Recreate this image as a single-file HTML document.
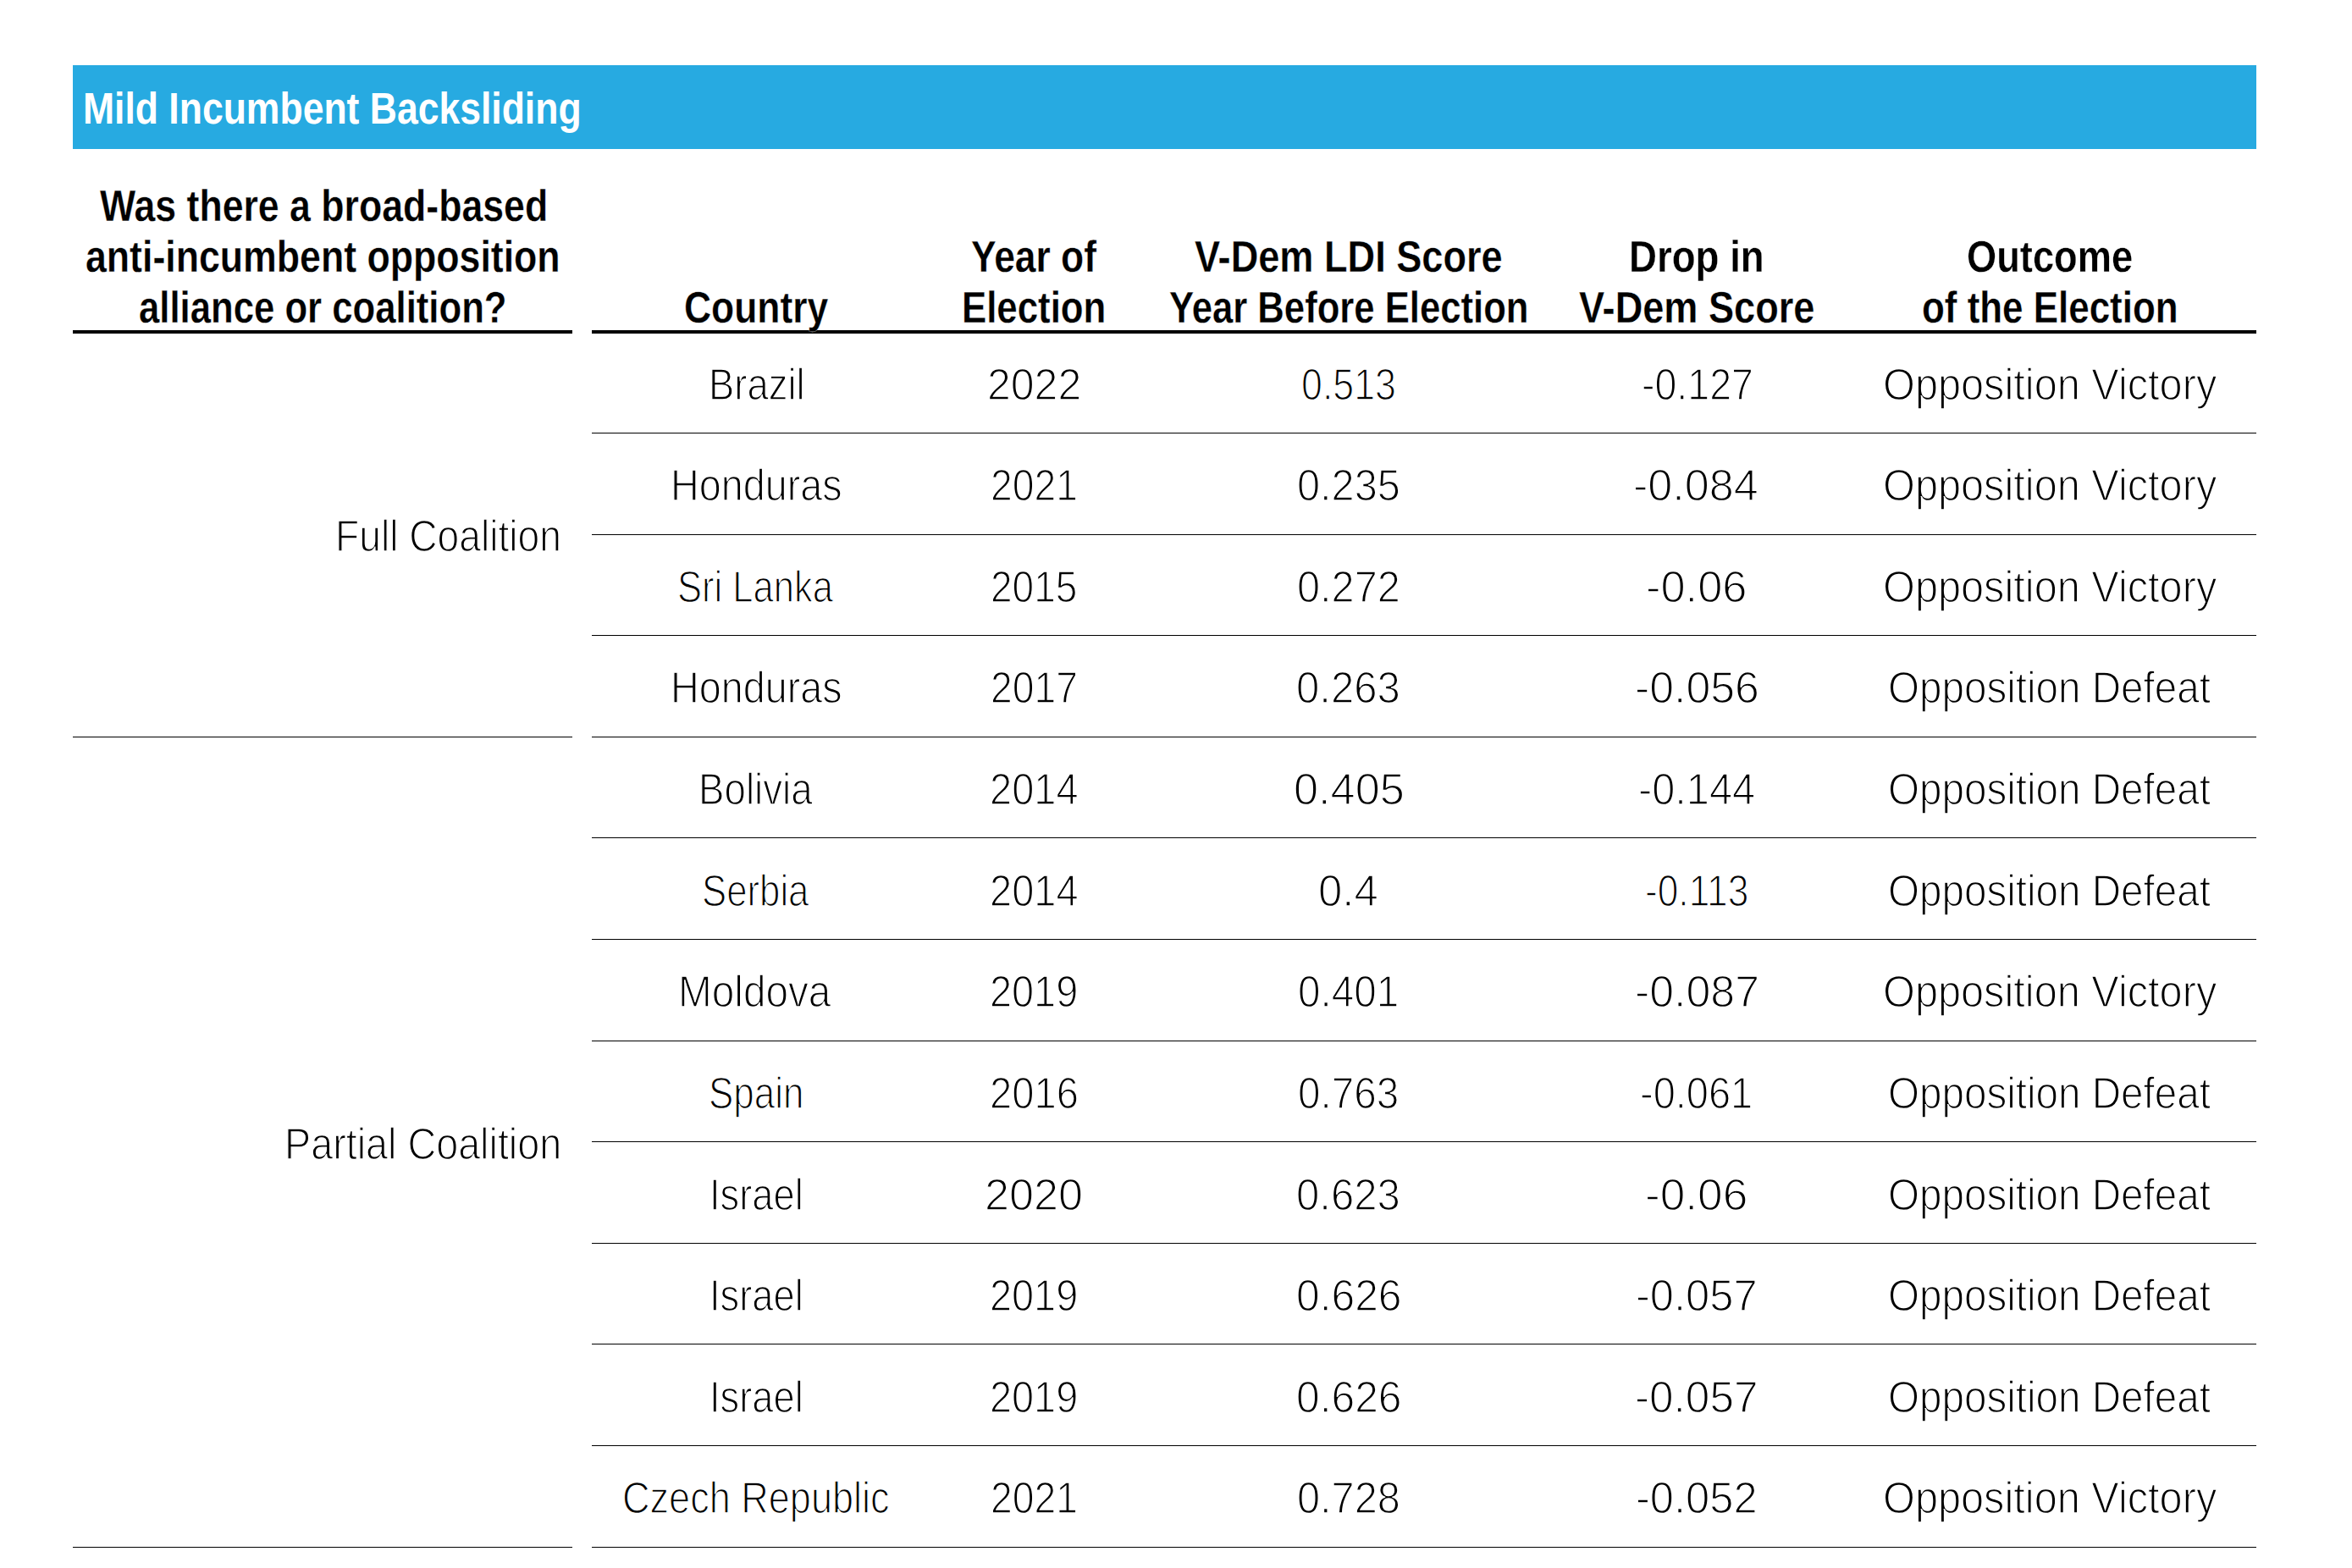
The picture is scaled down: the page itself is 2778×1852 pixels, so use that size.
<!DOCTYPE html>
<html><head><meta charset="utf-8"><style>
html,body{margin:0;padding:0;background:#fff;width:2778px;height:1852px;overflow:hidden;position:relative}
div{position:absolute;white-space:nowrap;line-height:1;font-family:"Liberation Sans",sans-serif;transform-origin:0 0}
i{position:absolute;display:block}
</style></head><body>
<i style="left:86px;top:77px;width:2579px;height:99px;background:#27aae1"></i><i style="left:86px;top:390px;width:590px;height:4px;background:#000"></i><i style="left:699px;top:390px;width:1966px;height:4px;background:#000"></i><i style="left:699px;top:511px;width:1966px;height:1px;background:#000"></i><i style="left:699px;top:631px;width:1966px;height:1px;background:#000"></i><i style="left:699px;top:750px;width:1966px;height:1px;background:#000"></i><i style="left:699px;top:870px;width:1966px;height:1px;background:#000"></i><i style="left:699px;top:989px;width:1966px;height:1px;background:#000"></i><i style="left:699px;top:1109px;width:1966px;height:1px;background:#000"></i><i style="left:699px;top:1229px;width:1966px;height:1px;background:#000"></i><i style="left:699px;top:1348px;width:1966px;height:1px;background:#000"></i><i style="left:699px;top:1468px;width:1966px;height:1px;background:#000"></i><i style="left:699px;top:1587px;width:1966px;height:1px;background:#000"></i><i style="left:699px;top:1707px;width:1966px;height:1px;background:#000"></i><i style="left:699px;top:1827px;width:1966px;height:1px;background:#000"></i><i style="left:86px;top:870px;width:590px;height:1px;background:#000"></i><i style="left:86px;top:1827px;width:590px;height:1px;background:#000"></i>
<div style="left:98.38px;top:102.83px;transform:scaleX(0.8728);font-weight:bold;font-size:51px;color:#fff;letter-spacing:0px;">Mild Incumbent Backsliding</div>
<div style="left:118.00px;top:217.58px;transform:scaleX(0.8752);font-weight:bold;font-size:51px;color:#000;letter-spacing:0px;-webkit-text-stroke:0.3px #fff;">Was there a broad-based</div>
<div style="left:101.25px;top:277.58px;transform:scaleX(0.8756);font-weight:bold;font-size:51px;color:#000;letter-spacing:0px;-webkit-text-stroke:0.3px #fff;">anti-incumbent opposition</div>
<div style="left:164.29px;top:337.58px;transform:scaleX(0.8566);font-weight:bold;font-size:51px;color:#000;letter-spacing:0px;-webkit-text-stroke:0.3px #fff;">alliance or coalition?</div>
<div style="left:808.26px;top:338.08px;transform:scaleX(0.8705);font-weight:bold;font-size:51px;color:#000;letter-spacing:0px;-webkit-text-stroke:0.3px #fff;">Country</div>
<div style="left:1147.13px;top:277.58px;transform:scaleX(0.8698);font-weight:bold;font-size:51px;color:#000;letter-spacing:0px;-webkit-text-stroke:0.3px #fff;">Year of</div>
<div style="left:1135.57px;top:338.08px;transform:scaleX(0.8586);font-weight:bold;font-size:51px;color:#000;letter-spacing:0px;-webkit-text-stroke:0.3px #fff;">Election</div>
<div style="left:1411.12px;top:277.58px;transform:scaleX(0.8848);font-weight:bold;font-size:51px;color:#000;letter-spacing:0px;-webkit-text-stroke:0.3px #fff;">V-Dem LDI Score</div>
<div style="left:1381.14px;top:337.58px;transform:scaleX(0.8557);font-weight:bold;font-size:51px;color:#000;letter-spacing:0px;-webkit-text-stroke:0.3px #fff;">Year Before Election</div>
<div style="left:1924.42px;top:277.58px;transform:scaleX(0.8947);font-weight:bold;font-size:51px;color:#000;letter-spacing:0px;-webkit-text-stroke:0.3px #fff;">Drop in</div>
<div style="left:1865.12px;top:337.58px;transform:scaleX(0.8846);font-weight:bold;font-size:51px;color:#000;letter-spacing:0px;-webkit-text-stroke:0.3px #fff;">V-Dem Score</div>
<div style="left:2322.73px;top:277.58px;transform:scaleX(0.8871);font-weight:bold;font-size:51px;color:#000;letter-spacing:0px;-webkit-text-stroke:0.3px #fff;">Outcome</div>
<div style="left:2270.28px;top:337.58px;transform:scaleX(0.8613);font-weight:bold;font-size:51px;color:#000;letter-spacing:0px;-webkit-text-stroke:0.3px #fff;">of the Election</div>
<div style="left:836.55px;top:429.03px;transform:scaleX(0.8908);font-weight:normal;font-size:51px;color:#000;letter-spacing:0px;-webkit-text-stroke:1.4px #fff;">Brazil</div>
<div style="left:1165.56px;top:429.03px;transform:scaleX(0.9804);font-weight:normal;font-size:51px;color:#000;letter-spacing:0px;-webkit-text-stroke:1.4px #fff;">2022</div>
<div style="left:1536.97px;top:429.03px;transform:scaleX(0.8770);font-weight:normal;font-size:51px;color:#000;letter-spacing:0px;-webkit-text-stroke:1.4px #fff;">0.513</div>
<div style="left:1938.66px;top:429.03px;transform:scaleX(0.9123);font-weight:normal;font-size:51px;color:#000;letter-spacing:0px;-webkit-text-stroke:1.4px #fff;">-0.127</div>
<div style="left:2223.64px;top:429.03px;transform:scaleX(0.9548);font-weight:normal;font-size:51px;color:#000;letter-spacing:0px;-webkit-text-stroke:1.4px #fff;">Opposition Victory</div>
<div style="left:792.42px;top:548.03px;transform:scaleX(0.9159);font-weight:normal;font-size:51px;color:#000;letter-spacing:0px;-webkit-text-stroke:1.4px #fff;">Honduras</div>
<div style="left:1169.68px;top:548.03px;transform:scaleX(0.9075);font-weight:normal;font-size:51px;color:#000;letter-spacing:0px;-webkit-text-stroke:1.4px #fff;">2021</div>
<div style="left:1531.64px;top:548.03px;transform:scaleX(0.9549);font-weight:normal;font-size:51px;color:#000;letter-spacing:0px;-webkit-text-stroke:1.4px #fff;">0.235</div>
<div style="left:1929.33px;top:548.03px;transform:scaleX(1.0223);font-weight:normal;font-size:51px;color:#000;letter-spacing:0px;-webkit-text-stroke:1.4px #fff;">-0.084</div>
<div style="left:2223.64px;top:548.03px;transform:scaleX(0.9548);font-weight:normal;font-size:51px;color:#000;letter-spacing:0px;-webkit-text-stroke:1.4px #fff;">Opposition Victory</div>
<div style="left:800.44px;top:668.03px;transform:scaleX(0.8538);font-weight:normal;font-size:51px;color:#000;letter-spacing:0px;-webkit-text-stroke:1.4px #fff;">Sri Lanka</div>
<div style="left:1169.69px;top:668.03px;transform:scaleX(0.9019);font-weight:normal;font-size:51px;color:#000;letter-spacing:0px;-webkit-text-stroke:1.4px #fff;">2015</div>
<div style="left:1531.64px;top:668.03px;transform:scaleX(0.9545);font-weight:normal;font-size:51px;color:#000;letter-spacing:0px;-webkit-text-stroke:1.4px #fff;">0.272</div>
<div style="left:1944.32px;top:668.03px;transform:scaleX(1.0273);font-weight:normal;font-size:51px;color:#000;letter-spacing:0px;-webkit-text-stroke:1.4px #fff;">-0.06</div>
<div style="left:2223.64px;top:668.03px;transform:scaleX(0.9548);font-weight:normal;font-size:51px;color:#000;letter-spacing:0px;-webkit-text-stroke:1.4px #fff;">Opposition Victory</div>
<div style="left:792.42px;top:787.03px;transform:scaleX(0.9159);font-weight:normal;font-size:51px;color:#000;letter-spacing:0px;-webkit-text-stroke:1.4px #fff;">Honduras</div>
<div style="left:1169.68px;top:787.03px;transform:scaleX(0.9075);font-weight:normal;font-size:51px;color:#000;letter-spacing:0px;-webkit-text-stroke:1.4px #fff;">2017</div>
<div style="left:1530.71px;top:787.03px;transform:scaleX(0.9623);font-weight:normal;font-size:51px;color:#000;letter-spacing:0px;-webkit-text-stroke:1.4px #fff;">0.263</div>
<div style="left:1930.55px;top:787.03px;transform:scaleX(1.0158);font-weight:normal;font-size:51px;color:#000;letter-spacing:0px;-webkit-text-stroke:1.4px #fff;">-0.056</div>
<div style="left:2230.20px;top:787.03px;transform:scaleX(0.9332);font-weight:normal;font-size:51px;color:#000;letter-spacing:0px;-webkit-text-stroke:1.4px #fff;">Opposition Defeat</div>
<div style="left:824.52px;top:907.03px;transform:scaleX(0.8958);font-weight:normal;font-size:51px;color:#000;letter-spacing:0px;-webkit-text-stroke:1.4px #fff;">Bolivia</div>
<div style="left:1168.74px;top:907.03px;transform:scaleX(0.9213);font-weight:normal;font-size:51px;color:#000;letter-spacing:0px;-webkit-text-stroke:1.4px #fff;">2014</div>
<div style="left:1527.53px;top:907.03px;transform:scaleX(1.0246);font-weight:normal;font-size:51px;color:#000;letter-spacing:0px;-webkit-text-stroke:1.4px #fff;">0.405</div>
<div style="left:1934.63px;top:907.03px;transform:scaleX(0.9554);font-weight:normal;font-size:51px;color:#000;letter-spacing:0px;-webkit-text-stroke:1.4px #fff;">-0.144</div>
<div style="left:2230.20px;top:907.03px;transform:scaleX(0.9332);font-weight:normal;font-size:51px;color:#000;letter-spacing:0px;-webkit-text-stroke:1.4px #fff;">Opposition Defeat</div>
<div style="left:829.43px;top:1027.03px;transform:scaleX(0.8576);font-weight:normal;font-size:51px;color:#000;letter-spacing:0px;-webkit-text-stroke:1.4px #fff;">Serbia</div>
<div style="left:1168.74px;top:1027.03px;transform:scaleX(0.9213);font-weight:normal;font-size:51px;color:#000;letter-spacing:0px;-webkit-text-stroke:1.4px #fff;">2014</div>
<div style="left:1556.70px;top:1027.03px;transform:scaleX(0.9985);font-weight:normal;font-size:51px;color:#000;letter-spacing:0px;-webkit-text-stroke:1.4px #fff;">0.4</div>
<div style="left:1943.00px;top:1027.03px;transform:scaleX(0.8681);font-weight:normal;font-size:51px;color:#000;letter-spacing:0px;-webkit-text-stroke:1.4px #fff;">-0.113</div>
<div style="left:2230.20px;top:1027.03px;transform:scaleX(0.9332);font-weight:normal;font-size:51px;color:#000;letter-spacing:0px;-webkit-text-stroke:1.4px #fff;">Opposition Defeat</div>
<div style="left:801.32px;top:1146.03px;transform:scaleX(0.9358);font-weight:normal;font-size:51px;color:#000;letter-spacing:0px;-webkit-text-stroke:1.4px #fff;">Moldova</div>
<div style="left:1168.74px;top:1146.03px;transform:scaleX(0.9187);font-weight:normal;font-size:51px;color:#000;letter-spacing:0px;-webkit-text-stroke:1.4px #fff;">2019</div>
<div style="left:1532.90px;top:1146.03px;transform:scaleX(0.9339);font-weight:normal;font-size:51px;color:#000;letter-spacing:0px;-webkit-text-stroke:1.4px #fff;">0.401</div>
<div style="left:1930.55px;top:1146.03px;transform:scaleX(1.0167);font-weight:normal;font-size:51px;color:#000;letter-spacing:0px;-webkit-text-stroke:1.4px #fff;">-0.087</div>
<div style="left:2223.64px;top:1146.03px;transform:scaleX(0.9548);font-weight:normal;font-size:51px;color:#000;letter-spacing:0px;-webkit-text-stroke:1.4px #fff;">Opposition Victory</div>
<div style="left:837.41px;top:1266.03px;transform:scaleX(0.8618);font-weight:normal;font-size:51px;color:#000;letter-spacing:0px;-webkit-text-stroke:1.4px #fff;">Spain</div>
<div style="left:1168.73px;top:1266.03px;transform:scaleX(0.9243);font-weight:normal;font-size:51px;color:#000;letter-spacing:0px;-webkit-text-stroke:1.4px #fff;">2016</div>
<div style="left:1532.90px;top:1266.03px;transform:scaleX(0.9336);font-weight:normal;font-size:51px;color:#000;letter-spacing:0px;-webkit-text-stroke:1.4px #fff;">0.763</div>
<div style="left:1936.84px;top:1266.03px;transform:scaleX(0.9210);font-weight:normal;font-size:51px;color:#000;letter-spacing:0px;-webkit-text-stroke:1.4px #fff;">-0.061</div>
<div style="left:2230.20px;top:1266.03px;transform:scaleX(0.9332);font-weight:normal;font-size:51px;color:#000;letter-spacing:0px;-webkit-text-stroke:1.4px #fff;">Opposition Defeat</div>
<div style="left:837.56px;top:1386.03px;transform:scaleX(0.8879);font-weight:normal;font-size:51px;color:#000;letter-spacing:0px;-webkit-text-stroke:1.4px #fff;">Israel</div>
<div style="left:1162.93px;top:1386.03px;transform:scaleX(1.0222);font-weight:normal;font-size:51px;color:#000;letter-spacing:0px;-webkit-text-stroke:1.4px #fff;">2020</div>
<div style="left:1530.71px;top:1386.03px;transform:scaleX(0.9623);font-weight:normal;font-size:51px;color:#000;letter-spacing:0px;-webkit-text-stroke:1.4px #fff;">0.623</div>
<div style="left:1943.37px;top:1386.03px;transform:scaleX(1.0436);font-weight:normal;font-size:51px;color:#000;letter-spacing:0px;-webkit-text-stroke:1.4px #fff;">-0.06</div>
<div style="left:2230.20px;top:1386.03px;transform:scaleX(0.9332);font-weight:normal;font-size:51px;color:#000;letter-spacing:0px;-webkit-text-stroke:1.4px #fff;">Opposition Defeat</div>
<div style="left:837.56px;top:1505.03px;transform:scaleX(0.8879);font-weight:normal;font-size:51px;color:#000;letter-spacing:0px;-webkit-text-stroke:1.4px #fff;">Israel</div>
<div style="left:1168.74px;top:1505.03px;transform:scaleX(0.9187);font-weight:normal;font-size:51px;color:#000;letter-spacing:0px;-webkit-text-stroke:1.4px #fff;">2019</div>
<div style="left:1530.67px;top:1505.03px;transform:scaleX(0.9754);font-weight:normal;font-size:51px;color:#000;letter-spacing:0px;-webkit-text-stroke:1.4px #fff;">0.626</div>
<div style="left:1932.42px;top:1505.03px;transform:scaleX(0.9928);font-weight:normal;font-size:51px;color:#000;letter-spacing:0px;-webkit-text-stroke:1.4px #fff;">-0.057</div>
<div style="left:2230.20px;top:1505.03px;transform:scaleX(0.9332);font-weight:normal;font-size:51px;color:#000;letter-spacing:0px;-webkit-text-stroke:1.4px #fff;">Opposition Defeat</div>
<div style="left:837.56px;top:1625.03px;transform:scaleX(0.8879);font-weight:normal;font-size:51px;color:#000;letter-spacing:0px;-webkit-text-stroke:1.4px #fff;">Israel</div>
<div style="left:1168.74px;top:1625.03px;transform:scaleX(0.9187);font-weight:normal;font-size:51px;color:#000;letter-spacing:0px;-webkit-text-stroke:1.4px #fff;">2019</div>
<div style="left:1530.67px;top:1625.03px;transform:scaleX(0.9754);font-weight:normal;font-size:51px;color:#000;letter-spacing:0px;-webkit-text-stroke:1.4px #fff;">0.626</div>
<div style="left:1931.48px;top:1625.03px;transform:scaleX(1.0058);font-weight:normal;font-size:51px;color:#000;letter-spacing:0px;-webkit-text-stroke:1.4px #fff;">-0.057</div>
<div style="left:2230.20px;top:1625.03px;transform:scaleX(0.9332);font-weight:normal;font-size:51px;color:#000;letter-spacing:0px;-webkit-text-stroke:1.4px #fff;">Opposition Defeat</div>
<div style="left:735.35px;top:1744.03px;transform:scaleX(0.8835);font-weight:normal;font-size:51px;color:#000;letter-spacing:0px;-webkit-text-stroke:1.4px #fff;">Czech Republic</div>
<div style="left:1169.68px;top:1744.03px;transform:scaleX(0.9075);font-weight:normal;font-size:51px;color:#000;letter-spacing:0px;-webkit-text-stroke:1.4px #fff;">2021</div>
<div style="left:1531.64px;top:1744.03px;transform:scaleX(0.9549);font-weight:normal;font-size:51px;color:#000;letter-spacing:0px;-webkit-text-stroke:1.4px #fff;">0.728</div>
<div style="left:1932.42px;top:1744.03px;transform:scaleX(0.9928);font-weight:normal;font-size:51px;color:#000;letter-spacing:0px;-webkit-text-stroke:1.4px #fff;">-0.052</div>
<div style="left:2223.64px;top:1744.03px;transform:scaleX(0.9548);font-weight:normal;font-size:51px;color:#000;letter-spacing:0px;-webkit-text-stroke:1.4px #fff;">Opposition Victory</div>
<div style="left:396.27px;top:608.03px;transform:scaleX(0.9056);font-weight:normal;font-size:51px;color:#000;letter-spacing:0px;-webkit-text-stroke:1.4px #fff;">Full Coalition</div>
<div style="left:336.42px;top:1326.03px;transform:scaleX(0.9161);font-weight:normal;font-size:51px;color:#000;letter-spacing:0px;-webkit-text-stroke:1.4px #fff;">Partial Coalition</div>
</body></html>
